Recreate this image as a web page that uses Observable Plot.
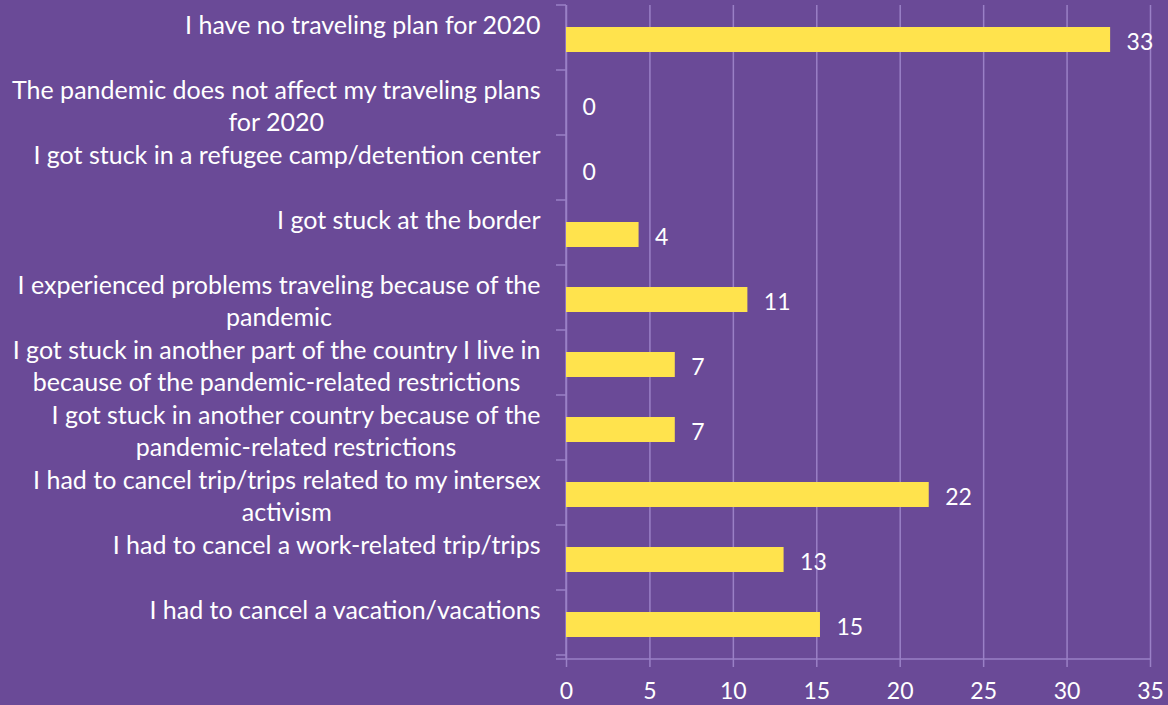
<!DOCTYPE html>
<html>
<head>
<meta charset="utf-8">
<script src="https://cdn.jsdelivr.net/npm/d3@7"></script>
<script src="https://cdn.jsdelivr.net/npm/@observablehq/plot@0.6"></script>
<style>
  html, body { margin: 0; padding: 0; background: #6a4a97; }
  #chart svg { display: block; }
</style>
</head>
<body>
<div id="chart"></div>
<script>
const categories = [
  "I have no traveling plan for 2020",
  "The pandemic does not affect my traveling plans\nfor 2020",
  "I got stuck in a refugee camp/detention center",
  "I got stuck at the border",
  "I experienced problems traveling because of the\npandemic",
  "I got stuck in another part of the country I live in\nbecause of the pandemic-related restrictions",
  "I got stuck in another country because of the\npandemic-related restrictions",
  "I had to cancel trip/trips related to my intersex\nactivism",
  "I had to cancel a work-related trip/trips",
  "I had to cancel a vacation/vacations"
];
const values = [32.61, 0, 0, 4.35, 10.87, 6.52, 6.52, 21.74, 13.04, 15.22];
const valueLabels = ["33", "0", "0", "4", "11", "7", "7", "22", "13", "15"];
const xTicks = [0, 5, 10, 15, 20, 25, 30, 35];

const data = categories.map((c, i) => ({category: c, value: values[i], label: valueLabels[i]}));

const BG = "#6a4a97";
const GRID = "#9a80c6";
const BAR = "#ffe34d";
const FONT = "Lato, 'Open Sans', sans-serif";

// axis lines and category separator ticks, derived from the scales
function frameMark(index, scales, values, dims) {
  const g = d3.create("svg:g");
  const x = scales.x, y = scales.y;
  const step = y.step ? y.step() : (dims.height - dims.marginTop - dims.marginBottom) / categories.length;
  const x0 = x(0), xMax = x(xTicks[xTicks.length - 1]);
  const top = dims.marginTop, bottom = dims.height - dims.marginBottom;
  g.append("line").attr("x1", x0).attr("x2", x0).attr("y1", top).attr("y2", bottom)
    .attr("stroke", GRID).attr("stroke-width", 1.5);
  g.append("line").attr("x1", x0 - 10).attr("x2", xMax).attr("y1", bottom).attr("y2", bottom)
    .attr("stroke", GRID).attr("stroke-width", 1.5);
  for (let i = 0; i <= categories.length; i++) {
    const yy = top + i * step;
    g.append("line").attr("x1", x0 - 10).attr("x2", x0).attr("y1", yy).attr("y2", yy)
      .attr("stroke", GRID).attr("stroke-width", 1.5);
  }
  return g.node();
}

const chart = Plot.plot({
  width: 1168,
  height: 705,
  marginLeft: 566,
  marginRight: 18,
  marginTop: 5,
  marginBottom: 46,
  style: {background: BG, color: "white", fontFamily: FONT, fontSize: "23px"},
  x: {domain: [0, 35], axis: null},
  y: {domain: categories, paddingInner: 0.61, paddingOuter: 0.305, axis: null},
  marks: [
    Plot.gridX(xTicks, {stroke: GRID, strokeOpacity: 1, strokeWidth: 1.5}),
    Plot.axisX({ticks: xTicks, label: null, tickSize: 8, tickPadding: 15, stroke: GRID, strokeOpacity: 1, strokeWidth: 1.5, fill: "white", fontSize: 23, fontFamily: FONT}),
    frameMark,
    Plot.barX(data, {x: "value", y: "category", fill: BAR}),
    Plot.text(data, {x: "value", y: "category", text: "label", dx: 16, dy: 3, textAnchor: "start", fill: "white", fontSize: 23, fontFamily: FONT}),
    Plot.text(data, {frameAnchor: "left", y: "category", text: "category", dx: -26, textAnchor: "end", lineHeight: 1.28, fill: "white", fontSize: 25, fontFamily: FONT})
  ]
});
document.getElementById("chart").appendChild(chart);

// Center wrapped lines within each label block while keeping the block right-aligned
const flat = new Set(categories.map(c => c.replace(/\n/g, "")));
d3.select(chart).selectAll("text").each(function() {
  const t = d3.select(this);
  if (!flat.has(this.textContent)) return;
  const tspans = t.selectAll("tspan");
  const tr = t.attr("transform") || "";
  if (tspans.size() > 1) {
    let maxW = 0;
    tspans.each(function() { maxW = Math.max(maxW, this.getComputedTextLength()); });
    t.attr("text-anchor", "middle");
    tspans.attr("x", -maxW / 2);
  } else {
    t.attr("transform", tr + " translate(0,-16)");
  }
});
</script>
</body>
</html>
